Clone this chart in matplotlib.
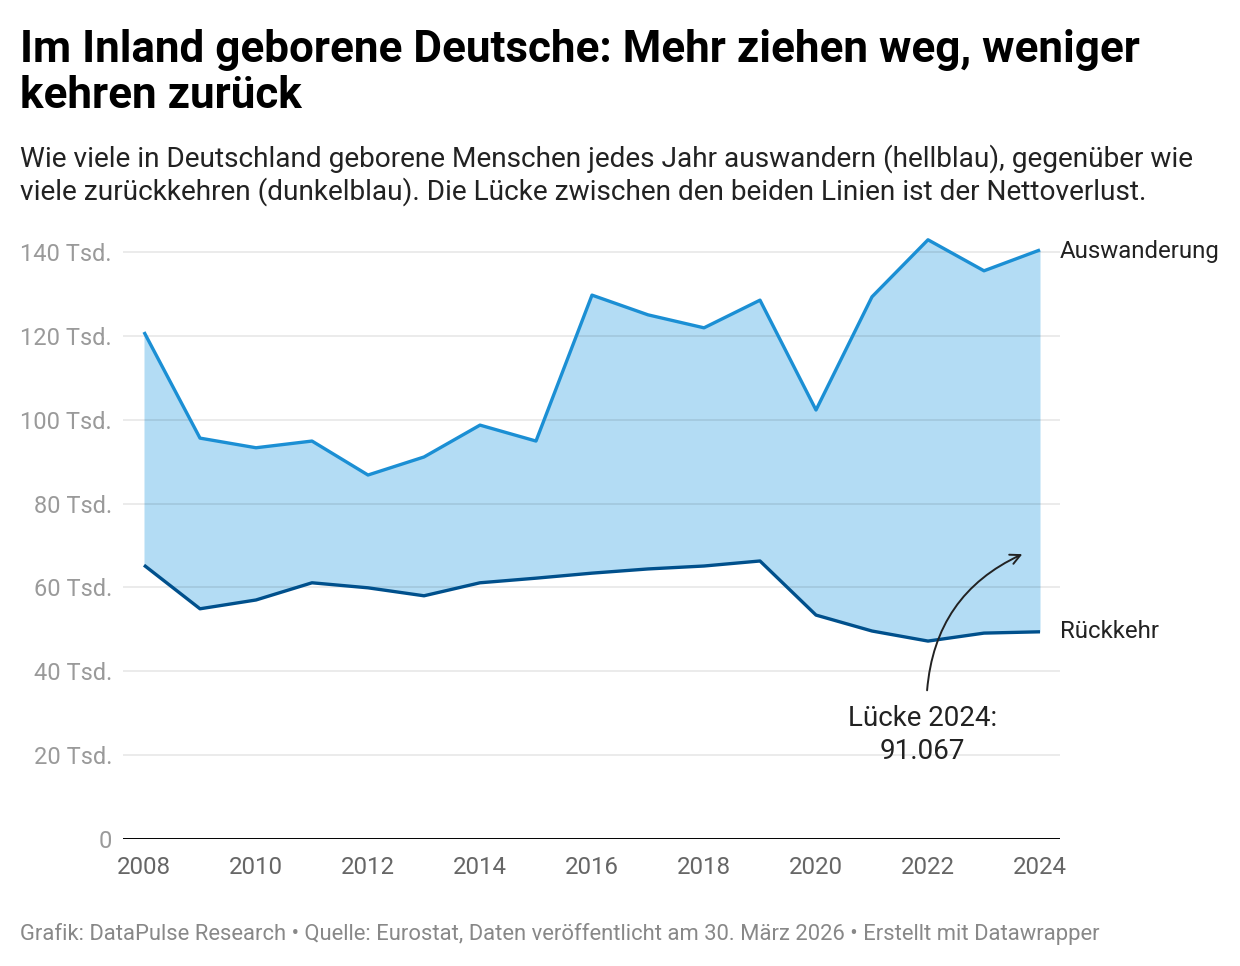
import matplotlib
matplotlib.use("Agg")
import matplotlib.pyplot as plt

plt.rcParams['font.family'] = ['Roboto', 'DejaVu Sans']

years = list(range(2008, 2025))
auswanderung = [120.9, 95.6, 93.3, 94.9, 86.8, 91.1, 98.7, 94.9, 129.7, 125.0,
                121.9, 128.5, 102.3, 129.3, 142.9, 135.5, 140.48]
rueckkehr = [65.3, 54.9, 57.0, 61.1, 59.9, 58.0, 61.1, 62.2, 63.4, 64.4,
             65.1, 66.3, 53.4, 49.6, 47.2, 49.1, 49.413]
y_ticks = [0, 20, 40, 60, 80, 100, 120, 140]
y_tick_labels = ["0"] + [f"{v} Tsd." for v in y_ticks[1:]]
x_ticks = list(range(2008, 2025, 2))

title_lines = ["Im Inland geborene Deutsche: Mehr ziehen weg, weniger", "kehren zurück"]
subtitle_lines = ["Wie viele in Deutschland geborene Menschen jedes Jahr auswandern (hellblau), gegenüber wie",
                  "viele zurückkehren (dunkelblau). Die Lücke zwischen den beiden Linien ist der Nettoverlust."]
footer = ("Grafik: DataPulse Research • Quelle: Eurostat, Daten veröffentlicht am 30. März 2026 • "
          "Erstellt mit Datawrapper")
gap_label = "Lücke 2024:\n91.067"

W, H = 1240, 966
fig = plt.figure(figsize=(W / 100, H / 100), dpi=100)
ax = fig.add_axes([123 / W, 1 - 839 / H, (1060 - 123) / W, (839 - 210) / H])

c_out = "#1b8fd4"
c_back = "#00508c"
c_fill = "#b3dcf4"

ax.fill_between(years, rueckkehr, auswanderung, color=c_fill, lw=0, zorder=1)
ax.plot(years, auswanderung, color=c_out, lw=2.4, zorder=4, solid_capstyle='butt')
ax.plot(years, rueckkehr, color=c_back, lw=2.4, zorder=4, solid_capstyle='butt')

ax.set_xlim(2008 - 21 / 56, 2024 + 20 / 56)
ax.set_ylim(0, 150)
for v in y_ticks[1:]:
    ax.axhline(v, color=(0, 0, 0, 0.1), lw=1.1, zorder=2)
ax.axhline(0, color="black", lw=1.4, zorder=5)

for s in ax.spines.values():
    s.set_visible(False)
ax.set_yticks(y_ticks)
ax.set_yticklabels(y_tick_labels)
ax.set_xticks(x_ticks)
ax.set_xticklabels([str(x) for x in x_ticks])
ax.tick_params(axis='y', length=0, pad=8, labelsize=17, labelcolor="#9a9a9a")
ax.tick_params(axis='x', length=0, pad=12, labelsize=17.3, labelcolor="#666666")

ax.text(2024 + 20 / 56, auswanderung[-1] - 0.4, "Auswanderung", ha="left", va="center",
        fontsize=17.3, color="#222222")
ax.text(2024 + 20 / 56, rueckkehr[-1], "Rückkehr", ha="left", va="center",
        fontsize=17.3, color="#222222")

ax.annotate("", xy=(2023.73, 68.2), xytext=(2021.98, 34.8),
            arrowprops=dict(arrowstyle="->", color="#222222", lw=1.4,
                            connectionstyle="arc3,rad=-0.3", mutation_scale=18),
            zorder=6)
ax.text(2021.9, 32.0, gap_label, ha="center", va="top", fontsize=20,
        color="#222222", linespacing=1.3, zorder=6)

fig.text(20 / W, 1 - 62 / H, title_lines[0], ha="left", va="baseline", fontsize=31.7,
         fontweight="bold", color="black")
fig.text(20 / W, 1 - 108 / H, title_lines[1], ha="left", va="baseline", fontsize=31.7,
         fontweight="bold", color="black")
fig.text(20 / W, 1 - 167 / H, subtitle_lines[0], ha="left", va="baseline", fontsize=20.2,
         color="#222222")
fig.text(20 / W, 1 - 200 / H, subtitle_lines[1], ha="left", va="baseline", fontsize=20.2,
         color="#222222")
fig.text(20 / W, 1 - 940 / H, footer, ha="left", va="baseline", fontsize=15.8,
         color="#888888")

fig.savefig("out.png", dpi=100)
